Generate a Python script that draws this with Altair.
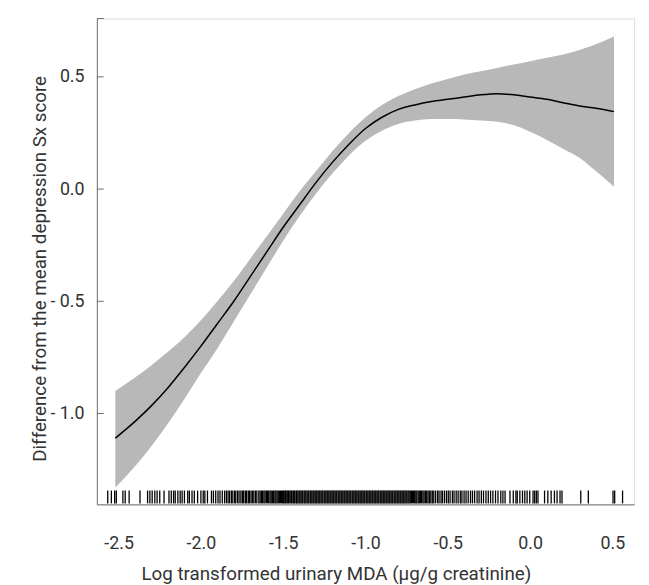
import altair as alt
import pandas as pd

# Smooth curve (x, fitted, lower, upper)
xs = [-2.52, -2.4, -2.3, -2.2, -2.1, -2.0, -1.9, -1.8, -1.7, -1.6, -1.5, -1.4, -1.3, -1.2,
      -1.1, -1.0, -0.9, -0.8, -0.7, -0.6, -0.5, -0.4, -0.3, -0.2, -0.1, 0.0, 0.1, 0.2, 0.3,
      0.4, 0.51]
fit = [-1.11, -1.035, -0.965, -0.885, -0.795, -0.70, -0.60, -0.50, -0.39, -0.28, -0.17, -0.07,
       0.03, 0.12, 0.20, 0.27, 0.32, 0.355, 0.375, 0.39, 0.40, 0.41, 0.42, 0.425, 0.42, 0.41,
       0.40, 0.385, 0.37, 0.36, 0.345]
lower = [-1.33, -1.235, -1.145, -1.045, -0.935, -0.82, -0.71, -0.59, -0.47, -0.35, -0.23, -0.12,
         -0.02, 0.07, 0.15, 0.215, 0.26, 0.29, 0.305, 0.312, 0.312, 0.31, 0.305, 0.30, 0.285,
         0.255, 0.22, 0.18, 0.14, 0.08, 0.01]
upper = [-0.90, -0.84, -0.785, -0.725, -0.66, -0.585, -0.50, -0.41, -0.31, -0.21, -0.11, -0.01,
         0.08, 0.17, 0.25, 0.32, 0.375, 0.415, 0.445, 0.47, 0.49, 0.51, 0.525, 0.54, 0.555,
         0.57, 0.585, 0.60, 0.62, 0.645, 0.68]

# Rug of observed values
rug = [
    -2.566, -2.544, -2.524, -2.514, -2.474, -2.46, -2.436, -2.37, -2.324, -2.31, -2.296,
    -2.28, -2.266, -2.25, -2.224, -2.194, -2.18, -2.166, -2.156, -2.14, -2.126, -2.114,
    -2.10, -2.08, -2.07, -2.054, -2.04, -2.02, -2.00, -1.986, -1.976, -1.96, -1.936,
    -1.924, -1.91, -1.896, -1.884, -1.87, -1.856,
    -1.845, -1.835, -1.826, -1.815, -1.806, -1.795, -1.788, -1.777, -1.768, -1.757,
    -1.748, -1.74, -1.73, -1.722, -1.712, -1.704, -1.695, -1.686, -1.678, -1.668, -1.66,
    -1.648, -1.640, -1.632, -1.625, -1.617, -1.61, -1.602, -1.595, -1.588, -1.58, -1.573,
    -1.566, -1.558, -1.55, -1.544, -1.537, -1.53, -1.523, -1.516, -1.51, -1.503,
    -1.497, -1.49, -1.486, -1.478, -1.472, -1.468, -1.46, -1.453, -1.449, -1.441, -1.436,
    -1.43, -1.422, -1.418, -1.411, -1.404, -1.399, -1.392, -1.386, -1.381, -1.373, -1.368,
    -1.362, -1.355, -1.349, -1.344, -1.336, -1.331, -1.325, -1.318, -1.313, -1.306, -1.3,
    -1.295, -1.288, -1.282, -1.277, -1.27, -1.264, -1.259, -1.251, -1.246, -1.24, -1.233,
    -1.228, -1.222, -1.215, -1.21, -1.203, -1.197, -1.192, -1.185, -1.179, -1.174, -1.166,
    -1.161, -1.155, -1.148, -1.143, -1.137, -1.13, -1.125, -1.118, -1.112, -1.107, -1.1,
    -1.094, -1.089, -1.081, -1.076, -1.07, -1.063, -1.058, -1.052, -1.045, -1.04, -1.033,
    -1.027, -1.022, -1.015, -1.009, -1.004, -0.996, -0.991, -0.985, -0.978, -0.973,
    -0.967, -0.96, -0.955, -0.948, -0.942, -0.937, -0.93, -0.924, -0.919, -0.911, -0.906,
    -0.9, -0.893, -0.888, -0.882, -0.875, -0.87, -0.863, -0.857, -0.852, -0.845, -0.839,
    -0.834, -0.826, -0.821, -0.815, -0.808, -0.803, -0.797, -0.79, -0.785, -0.778, -0.772,
    -0.767, -0.76, -0.754, -0.748, -0.741, -0.735, -0.728, -0.721, -0.715, -0.708, -0.701,
    -0.694, -0.688, -0.68, -0.673, -0.666, -0.659, -0.651, -0.644, -0.636, -0.628, -0.62,
    -0.612, -0.603, -0.594, -0.585,
    -0.574, -0.562, -0.553, -0.541, -0.532, -0.52, -0.508, -0.497, -0.486, -0.472, -0.462,
    -0.449, -0.437, -0.424, -0.414, -0.401, -0.389, -0.376, -0.362, -0.35, -0.337, -0.322,
    -0.31, -0.296, -0.283, -0.268, -0.254, -0.24, -0.226, -0.21, -0.195, -0.178, -0.165,
    -0.152, -0.122, -0.102, -0.086, -0.078, -0.062, -0.046, -0.032, -0.018, -0.002, 0.018,
    0.028, 0.038, 0.048, 0.088, 0.108, 0.128, 0.148, 0.164, 0.182, 0.194, 0.308, 0.354,
    0.504, 0.514, 0.562,
]

y_ticks = [-1.0, -0.5, 0.0, 0.5]
x_ticks = [-2.5, -2.0, -1.5, -1.0, -0.5, 0.0, 0.5]
x_title = "Log transformed urinary MDA (μg/g creatinine)"
y_title = "Difference from the mean depression Sx score"

curve = pd.DataFrame({"x": xs, "fit": fit, "lower": lower, "upper": upper})
rug_df = pd.DataFrame({"x": rug})
ytick_df = pd.DataFrame({"y": y_ticks})

W, H = 544, 492
FONT = "Roboto, Liberation Sans Narrow, sans-serif"
AX = "#6e6e6e"
TXT = "#333333"

xscale = alt.Scale(domain=[-2.632, 0.632], nice=False, zero=False)
yscale = alt.Scale(domain=[-1.405, 0.76], nice=False, zero=False)

xaxis = alt.Axis(
    values=x_ticks, ticks=False, grid=False, domainColor=AX, domainWidth=1,
    labelExpr="(datum.value < 0 ? '-' : '') + format(abs(datum.value), '.1f')",
    labelFont=FONT, labelFontSize=18, labelColor=TXT, labelPadding=31,
    title=x_title, titleFont=FONT, titleFontSize=19, titleFontWeight="normal",
    titleColor=TXT, titleX=242, titleY=70, titleAnchor="middle", titleBaseline="middle",
)
yaxis = alt.Axis(
    values=y_ticks, ticks=False, grid=False, domainColor=AX, domainWidth=1,
    labelExpr="(datum.value < 0 ? '- ' : '') + format(abs(datum.value), '.1f')",
    labelFont=FONT, labelFontSize=18, labelColor=TXT, labelPadding=13,
    title=y_title, titleFont=FONT, titleFontSize=19, titleFontWeight="normal",
    titleColor=TXT, titleX=-58, titleY=253, titleAngle=-90, titleAnchor="middle",
    titleBaseline="middle",
)

band = alt.Chart(curve).mark_area(color="#b8b8b8", opacity=1, interpolate="monotone").encode(
    x=alt.X("x:Q", scale=xscale, axis=xaxis),
    y=alt.Y("lower:Q", scale=yscale, axis=yaxis),
    y2="upper:Q",
)
line = alt.Chart(curve).mark_line(color="black", strokeWidth=1.5, interpolate="monotone").encode(
    x=alt.X("x:Q", scale=xscale),
    y=alt.Y("fit:Q", scale=yscale),
)
rugs = alt.Chart(rug_df).mark_rule(color="black", strokeWidth=1.3).encode(
    x=alt.X("x:Q", scale=xscale),
    y=alt.value(H - 14),
    y2=alt.value(H - 1),
)
yticks = alt.Chart(ytick_df).mark_rule(color=AX, strokeWidth=1).encode(
    y=alt.Y("y:Q", scale=yscale),
    x=alt.value(0),
    x2=alt.value(7),
)
topcap = alt.Chart(ytick_df.head(1)).mark_rule(color=AX, strokeWidth=1).encode(
    y=alt.value(0),
    x=alt.value(0),
    x2=alt.value(7),
)

chart = alt.layer(band, line, rugs, yticks, topcap).properties(
    width=W, height=H,
    autosize=alt.AutoSizeParams(type="none"),
    padding={"left": 90, "top": 7, "right": 7, "bottom": 78},
).configure_view(stroke=None).configure(background="white")

chart.save("out.html", embed_options={"renderer": "svg", "actions": False})
